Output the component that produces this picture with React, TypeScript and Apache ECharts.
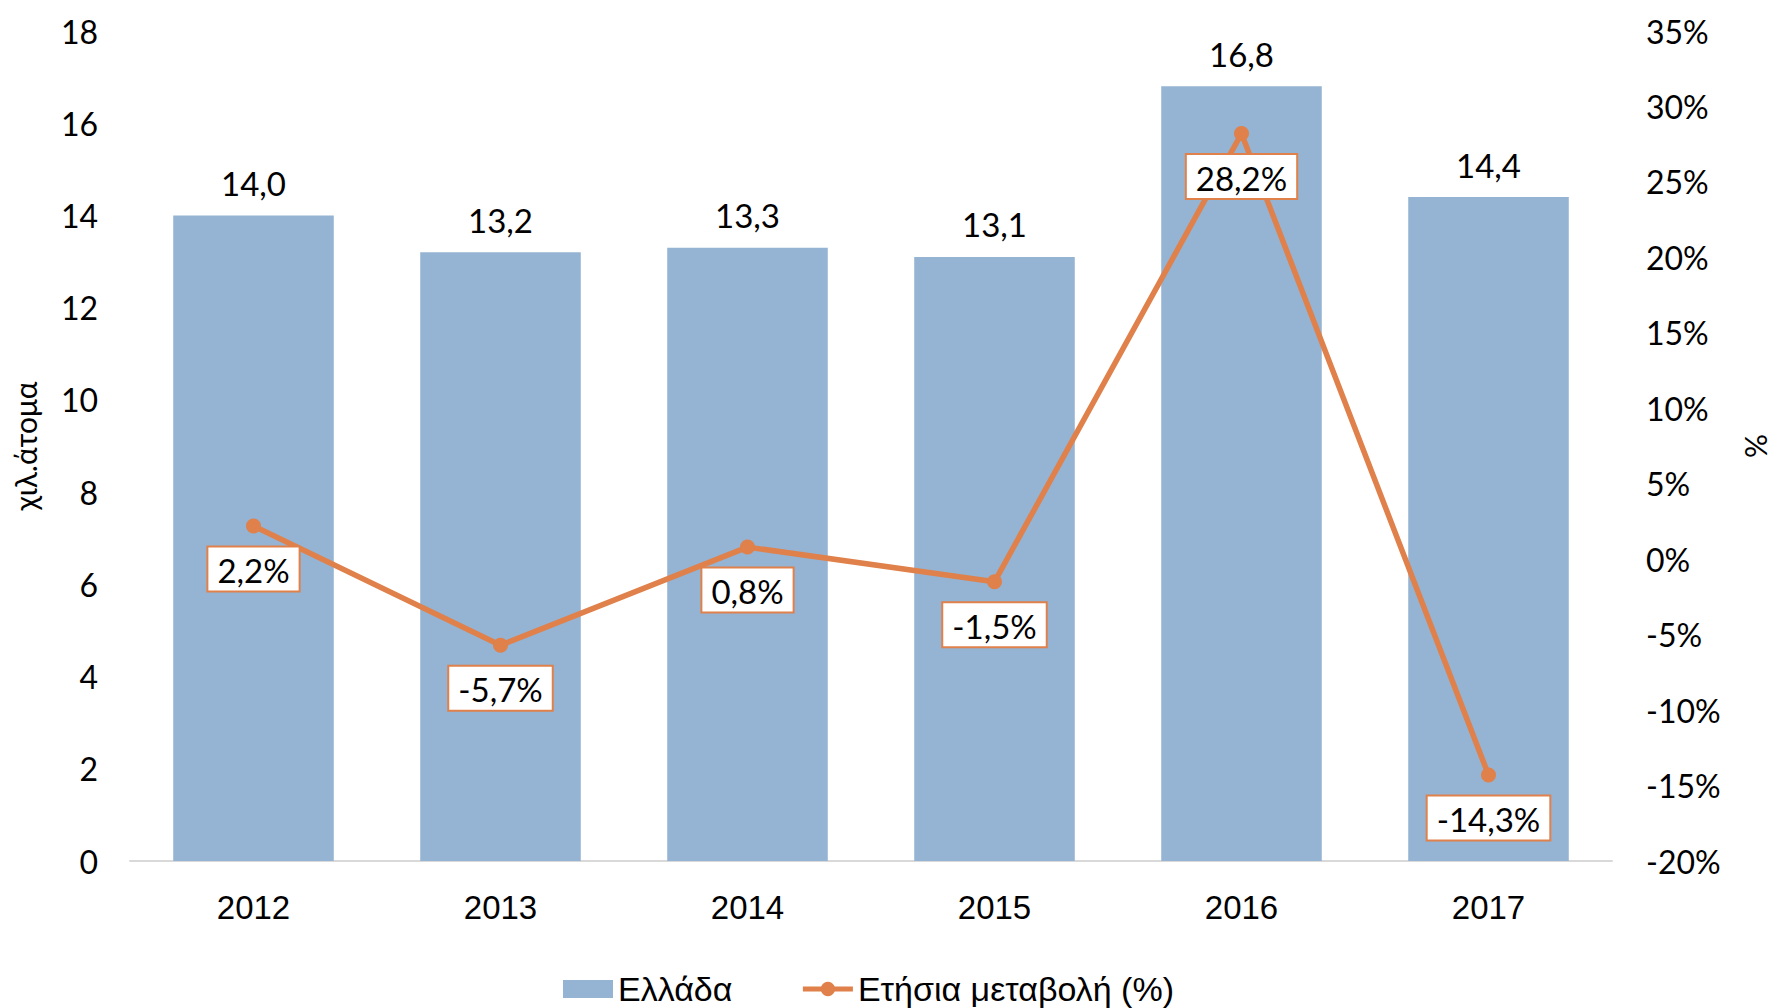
import React, { useEffect, useRef } from "react";
import * as echarts from "echarts";

const years = ["2012", "2013", "2014", "2015", "2016", "2017"];
const greeceValues = [14.0, 13.2, 13.3, 13.1, 16.8, 14.4];
const changeValues = [2.2, -5.7, 0.8, -1.5, 28.2, -14.3];
const barName = "Ελλάδα";
const lineName = "Ετήσια μεταβολή (%)";
const leftAxisName = "χιλ.άτομα";
const rightAxisName = "%";

const NUM_FONT = "Lato";
const CAT_FONT = "Liberation Sans";
const BAR_COLOR = "#95B3D2";
const LINE_COLOR = "#E0804A";

const fmt = (v: number) => v.toFixed(1).replace(".", ",");

export default function App() {
  const ref = useRef<HTMLDivElement>(null);
  useEffect(() => {
    document.body.style.margin = "0";
    const chart = echarts.init(ref.current!, null, { renderer: "svg" });
    chart.setOption({
      animation: false,
      backgroundColor: "#ffffff",
      grid: {
        left: 130,
        right: 165,
        top: 31,
        bottom: 147,
        containLabel: false,
        outerBoundsMode: "none",
      },
      legend: {
        bottom: -3,
        left: 558,
        itemWidth: 50,
        itemHeight: 18,
        itemGap: 68,
        textStyle: { fontFamily: CAT_FONT, fontSize: 34, color: "#000" },
        data: [
          { name: barName, icon: "rect" },
          {
            name: lineName,
            lineStyle: { width: 5, color: LINE_COLOR },
            itemStyle: { color: LINE_COLOR },
          },
        ],
      },
      xAxis: {
        type: "category",
        data: years,
        axisTick: { show: false },
        axisLine: { lineStyle: { color: "#D9D9D9", width: 2 } },
        axisLabel: { fontFamily: CAT_FONT, fontSize: 33, color: "#000", margin: 30 },
      },
      yAxis: [
        {
          type: "value",
          min: 0,
          max: 18,
          interval: 2,
          name: leftAxisName,
          nameLocation: "middle",
          nameGap: 90,
          nameRotate: 90,
          nameTextStyle: { fontFamily: NUM_FONT, fontSize: 30, color: "#000" },
          splitLine: { show: false },
          axisLine: { show: false },
          axisTick: { show: false },
          axisLabel: { fontFamily: NUM_FONT, fontSize: 32, color: "#000", margin: 32 },
        },
        {
          type: "value",
          min: -20,
          max: 35,
          interval: 5,
          name: rightAxisName,
          nameLocation: "middle",
          nameGap: 130,
          nameRotate: -90,
          nameTextStyle: { fontFamily: NUM_FONT, fontSize: 30, color: "#000" },
          splitLine: { show: false },
          axisLine: { show: false },
          axisTick: { show: false },
          axisLabel: {
            fontFamily: NUM_FONT,
            fontSize: 32,
            color: "#000",
            margin: 34,
            formatter: (v: number) => v + "%",
          },
        },
      ],
      series: [
        {
          name: barName,
          type: "bar",
          data: greeceValues,
          yAxisIndex: 0,
          barCategoryGap: "35%",
          itemStyle: { color: BAR_COLOR },
          label: {
            show: true,
            position: "top",
            distance: 16,
            fontFamily: NUM_FONT,
            fontSize: 33,
            color: "#000",
            formatter: (p: any) => fmt(p.value),
          },
          z: 2,
        },
        {
          name: lineName,
          type: "line",
          data: changeValues,
          yAxisIndex: 1,
          symbol: "circle",
          symbolSize: 15,
          lineStyle: { color: LINE_COLOR, width: 5.5 },
          itemStyle: { color: LINE_COLOR },
          label: {
            show: true,
            position: "bottom",
            distance: 14,
            fontFamily: NUM_FONT,
            fontSize: 33,
            color: "#000",
            backgroundColor: "#fff",
            borderColor: LINE_COLOR,
            borderWidth: 2,
            padding: [6, 9, 4, 9],
            formatter: (p: any) => fmt(p.value) + "%",
          },
          z: 5,
        },
      ],
    });
    return () => chart.dispose();
  }, []);
  return <div ref={ref} style={{ width: 1777, height: 1008 }} />;
}
